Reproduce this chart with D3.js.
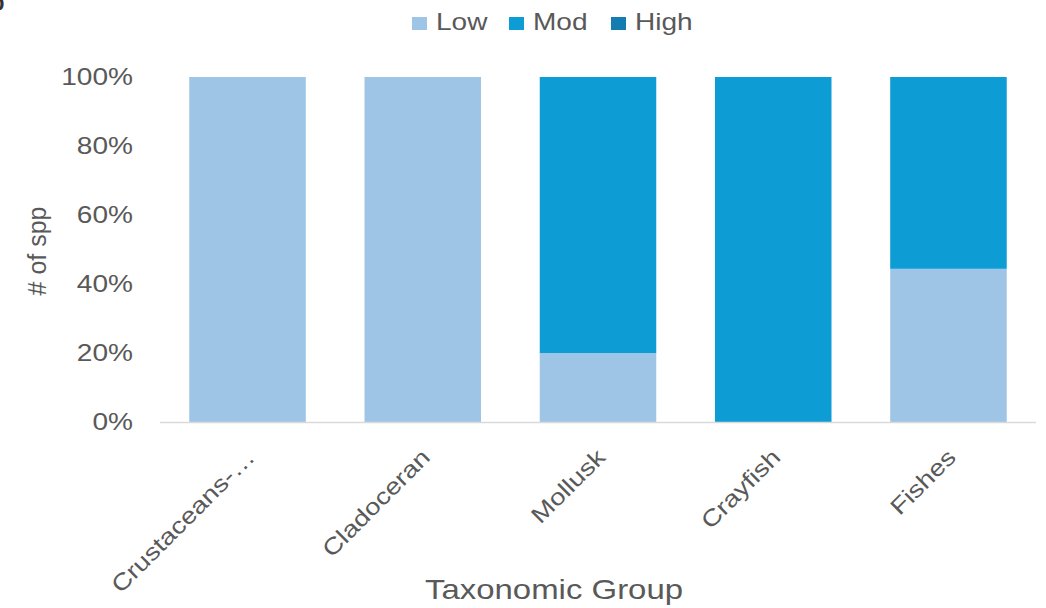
<!DOCTYPE html>
<html>
<head>
<meta charset="utf-8">
<script src="https://cdn.jsdelivr.net/npm/d3@7"></script>
<style>
  body { margin: 0; background: #fff; }
  text { font-family: "Liberation Sans", Arial, sans-serif; fill: #595959; }
</style>
</head>
<body>
<div id="chart"></div>
<script>
// Data (share of species per level)
var groups = ["Crustaceans-…", "Cladoceran", "Mollusk", "Crayfish", "Fishes"];
var levels = ["Low", "Mod", "High"];
var lowShare  = [1.00, 1.00, 0.20, 0.00, 0.444];
var modShare  = [0.00, 0.00, 0.80, 1.00, 0.556];
var highShare = [0.00, 0.00, 0.00, 0.00, 0.00];
var yTicks = [0, 0.2, 0.4, 0.6, 0.8, 1.0];

var colors = {Low: "#9fc5e6", Mod: "#0e9cd5", High: "#137db0"};

var width = 1046, height = 608;
var margin = {top: 77, right: 10, bottom: 186, left: 160};
var stretch = 1.22; // the original font is set wide, so widen the glyphs along the line

var svg = d3.select("#chart")
    .append("svg")
    .attr("width", width)
    .attr("height", height);

// build rows for the stack
var rows = groups.map(function(g, i) {
    return {group: g, Low: lowShare[i], Mod: modShare[i], High: highShare[i]};
});
var series = d3.stack().keys(levels)(rows);

var x = d3.scaleBand()
    .domain(groups)
    .range([margin.left, width - margin.right])
    .paddingInner(0.335)
    .paddingOuter(0.167);

var y = d3.scaleLinear()
    .domain([0, 1])
    .range([height - margin.bottom, margin.top]);

// y tick labels
svg.append("g")
    .selectAll("text")
    .data(yTicks)
    .enter()
    .append("text")
    .attr("transform", function(d) { return "translate(133," + y(d) + ") scale(" + stretch + ",1)"; })
    .attr("dy", "0.36em")
    .attr("text-anchor", "end")
    .style("font-size", "23px")
    .text(d3.format(".0%"));

// bars
svg.append("g")
    .selectAll("g")
    .data(series)
    .enter()
    .append("g")
    .attr("fill", function(s) { return colors[s.key]; })
    .selectAll("rect")
    .data(function(s) { return s; })
    .enter()
    .append("rect")
    .attr("x", function(d) { return x(d.data.group); })
    .attr("y", function(d) { return y(d[1]); })
    .attr("width", x.bandwidth())
    .attr("height", function(d) { return y(d[0]) - y(d[1]); });

// baseline
svg.append("line")
    .attr("x1", margin.left)
    .attr("x2", width - margin.right)
    .attr("y1", y(0) + 0.5)
    .attr("y2", y(0) + 0.5)
    .attr("stroke", "#d9d9d9")
    .attr("stroke-width", 1.5);

// x category labels, rotated
svg.append("g")
    .selectAll("text")
    .data(groups)
    .enter()
    .append("text")
    .attr("transform", function(d) {
        return "translate(" + (x(d) + x.bandwidth() / 2 + 3) + ",453) rotate(-45) scale(1.2,1)";
    })
    .attr("text-anchor", "end")
    .attr("dy", "0.35em")
    .style("font-size", "23px")
    .text(function(d) { return d; });

// axis titles
svg.append("text")
    .attr("transform", "translate(554,599) scale(" + stretch + ",1)")
    .attr("text-anchor", "middle")
    .style("font-size", "27px")
    .text("Taxonomic Group");

svg.append("text")
    .attr("transform", "translate(46,251) rotate(-90)")
    .attr("text-anchor", "middle")
    .style("font-size", "25px")
    .text("# of spp");

// legend
var legendX = [412, 509, 611];
var legend = svg.append("g")
    .selectAll("g")
    .data(levels)
    .enter()
    .append("g")
    .attr("transform", function(d, i) { return "translate(" + legendX[i] + ",17)"; });

legend.append("rect")
    .attr("width", 15)
    .attr("height", 13)
    .attr("fill", function(d) { return colors[d]; });

legend.append("text")
    .attr("transform", "translate(24,13) scale(" + stretch + ",1)")
    .style("font-size", "23px")
    .text(function(d) { return d; });

// cropped panel letter in the corner
svg.append("text")
    .attr("x", -9)
    .attr("y", 10)
    .style("font-size", "22px")
    .style("font-weight", "bold")
    .style("fill", "#333")
    .text("b");
</script>
</body>
</html>
